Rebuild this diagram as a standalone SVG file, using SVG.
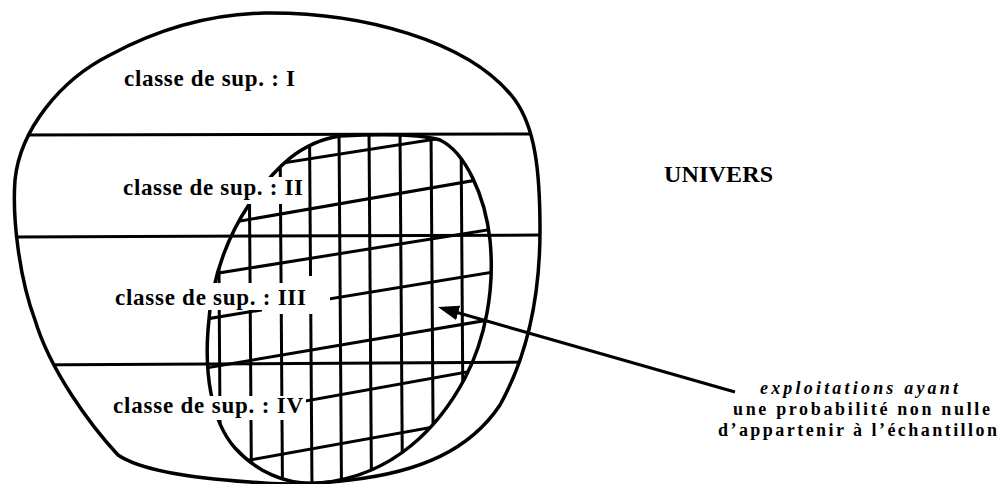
<svg xmlns="http://www.w3.org/2000/svg" width="1001" height="484" viewBox="0 0 1001 484">
<style>
.ink{fill:none;stroke:#000;stroke-linejoin:round}
.outer{stroke-width:3.5}
.band{stroke-width:3}
.grid{stroke-width:3}
.edge{stroke-width:3.5}
.ko{fill:#fff;stroke:none}
.lbl{font-family:"Liberation Serif","Times New Roman",serif;font-weight:bold;fill:#000}
.cls{font-size:23px}
.note{font-size:18px}
.conn{fill:none;stroke:#000;stroke-width:3}
</style>
<defs>
<path id="outerShape" d="M 265,13 C 360,12 470,40 515,100 C 535,128 540,170 540,230 C 540,300 525,360 500,405 C 470,450 420,472 350,480 C 310,485 280,485 250,482 C 190,478 140,470 118,455 C 90,425 50,370 35,320 C 20,280 12,220 15,180 C 20,130 60,80 110,55 C 160,28 210,14 265,13 Z"/>
<path id="sampleShape" d="M 340,136 C 380,134 420,134 440,140 C 465,152 485,195 490,240 C 495,290 485,340 465,378 C 440,425 395,476 320,483 C 285,486 255,470 235,448 C 210,420 205,370 208,330 C 211,280 225,240 250,203 C 275,168 300,142 340,136 Z"/>
<clipPath id="clipOuter"><use href="#outerShape"/></clipPath>
<clipPath id="clipSample"><use href="#sampleShape"/></clipPath>
<marker id="arrowHead" markerUnits="userSpaceOnUse" markerWidth="21" markerHeight="15" viewBox="0 0 21 15" refX="11" refY="7.5" orient="auto">
<path d="M0,0 L21,7.5 L0,15 Z" fill="#000"/>
</marker>
</defs>

<g id="univers">
<use href="#outerShape" class="ink outer"/>
<g clip-path="url(#clipOuter)" class="ink band">
<line x1="0" y1="135" x2="560" y2="134"/>
<line x1="0" y1="237" x2="560" y2="235"/>
<line x1="0" y1="365" x2="560" y2="362"/>
</g>
</g>

<g id="echantillon">
<g clip-path="url(#clipSample)" class="ink grid">
<line x1="218" y1="130" x2="220.5" y2="490"/>
<line x1="249" y1="130" x2="251.5" y2="490"/>
<line x1="280" y1="130" x2="282.5" y2="490"/>
<line x1="309.5" y1="130" x2="312" y2="490"/>
<line x1="339" y1="130" x2="341.5" y2="490"/>
<line x1="369" y1="130" x2="371.5" y2="490"/>
<line x1="400" y1="130" x2="402.5" y2="490"/>
<line x1="431" y1="130" x2="433.5" y2="490"/>
<line x1="461" y1="130" x2="463.5" y2="490"/>
<line x1="200" y1="176" x2="500" y2="129"/>
<line x1="200" y1="228" x2="500" y2="176"/>
<line x1="200" y1="276" x2="500" y2="228"/>
<line x1="200" y1="320" x2="500" y2="271"/>
<line x1="200" y1="369" x2="500" y2="318"/>
<line x1="200" y1="420" x2="500" y2="366"/>
<line x1="200" y1="469" x2="500" y2="415"/>
</g>
<use href="#sampleShape" class="ink edge"/>
</g>

<g id="knockouts">
<rect class="ko" x="114" y="177" width="192" height="27"/>
<rect class="ko" x="110" y="283" width="206" height="27"/>
<rect class="ko" x="300" y="276" width="16" height="8"/>
<rect class="ko" x="262" y="296" width="68" height="18"/>
<rect class="ko" x="108" y="396" width="198" height="24"/>
</g>

<g id="classe-I"><text class="lbl cls" x="124" y="86" textLength="171">classe de sup. : I</text></g>
<g id="classe-II"><text class="lbl cls" x="123" y="195" textLength="180">classe de sup. : II</text></g>
<g id="classe-III"><text class="lbl cls" x="115" y="305" textLength="191">classe de sup. : III</text></g>
<g id="classe-IV"><text class="lbl cls" x="113" y="413" textLength="190">classe de sup. : IV</text></g>

<g id="label-univers"><text class="lbl" font-size="24" x="664" y="182" textLength="109">UNIVERS</text></g>

<g id="label-exploitations">
<text class="lbl note" font-style="italic" x="760" y="394" textLength="198">exploitations ayant</text>
<text class="lbl note" x="733" y="415" textLength="257">une probabilité non nulle</text>
<text class="lbl note" x="718" y="436" textLength="279">d’appartenir à l’échantillon</text>
</g>

<g id="connectors">
<line class="conn" x1="735" y1="392" x2="447.6" y2="309.8" marker-end="url(#arrowHead)"/>
</g>
</svg>
